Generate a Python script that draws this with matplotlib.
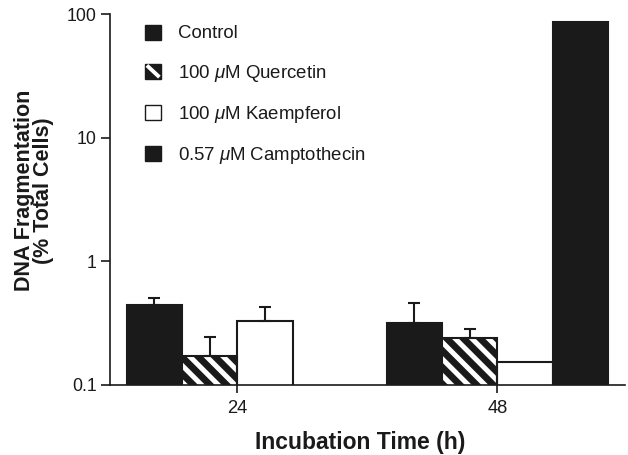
import numpy as np
import matplotlib
matplotlib.use("Agg")
import matplotlib.pyplot as plt
from matplotlib.patches import Patch, Rectangle
from matplotlib.lines import Line2D
from matplotlib.legend_handler import HandlerBase
from matplotlib.ticker import FixedLocator, NullLocator, FixedFormatter

plt.rcParams['font.family'] = ['Liberation Sans', 'DejaVu Sans']
plt.rcParams['hatch.linewidth'] = 3.6
plt.rcParams['mathtext.fontset'] = 'custom'
plt.rcParams['mathtext.it'] = 'Liberation Sans:italic'
plt.rcParams['mathtext.rm'] = 'Liberation Sans'

# Data
times = ["24", "48"]
series = ["Control", r"100 $\mu$M Quercetin", r"100 $\mu$M Kaempferol", r"0.57 $\mu$M Camptothecin"]
control = [0.445, 0.318]
quercetin = [0.172, 0.240]
kaempferol = [0.330, 0.153]
camptothecin = [np.nan, 86.0]
control_err = [0.06, 0.14]
quercetin_err = [0.073, 0.044]
kaempferol_err = [0.098, np.nan]
camptothecin_err = [np.nan, np.nan]

INK = '#1a1a1a'


class StripedSquare(HandlerBase):
    """Legend key: dark square crossed by one white diagonal stripe."""

    def create_artists(self, legend, orig_handle, xdescent, ydescent, width, height, fontsize, trans):
        x0, y0 = -xdescent, -ydescent
        rect = Rectangle((x0, y0), width, height, facecolor=INK, edgecolor=INK, lw=1, transform=trans)
        stripe = Line2D([x0 + 0.12 * width, x0 + 0.9 * width], [y0 + 0.88 * height, y0 + 0.1 * height],
                        color='white', lw=2.8, solid_capstyle='butt', transform=trans)
        return [rect, stripe]


fig = plt.figure(figsize=(6.28, 4.55), dpi=100)
ax = fig.add_axes([0.175, 0.154, 0.82, 0.815])
ax.set_yscale('log')
ax.set_ylim(0.1, 100)
ax.set_xlim(-0.49, 1.49)

x = np.arange(len(times))
w = 0.213
offsets = np.array([-1.5, -0.5, 0.5, 1.5]) * w
values = [control, quercetin, kaempferol, camptothecin]
errors = [control_err, quercetin_err, kaempferol_err, camptothecin_err]
styles = [
    dict(facecolor=INK, edgecolor=INK),
    dict(facecolor=INK, edgecolor='white', hatch='\\\\'),
    dict(facecolor='white', edgecolor=INK),
    dict(facecolor=INK, edgecolor=INK),
]

for vals, errs, off, st in zip(values, errors, offsets, styles):
    vals = np.array(vals, dtype=float)
    hatched = 'hatch' in st
    ax.bar(x + off, vals, w, linewidth=0 if hatched else 1.5, zorder=2, **st)
    if hatched:
        ax.bar(x + off, vals, w, facecolor='none', edgecolor=INK, linewidth=1.5, zorder=3)
    errs = np.array(errs, dtype=float)
    ok = ~np.isnan(errs) & ~np.isnan(vals)
    ax.errorbar(x[ok] + off, vals[ok], yerr=[np.zeros(ok.sum()), errs[ok]],
                fmt='none', ecolor=INK, elinewidth=1.5, capsize=4, capthick=1.5, zorder=4)

for s in ['top', 'right']:
    ax.spines[s].set_visible(False)
for s in ['left', 'bottom']:
    ax.spines[s].set_linewidth(1.2)
    ax.spines[s].set_color(INK)

ax.yaxis.set_major_locator(FixedLocator([0.1, 1, 10, 100]))
ax.yaxis.set_major_formatter(FixedFormatter(["0.1", "1", "10", "100"]))
ax.yaxis.set_minor_locator(NullLocator())
ax.set_xticks(x)
ax.set_xticklabels(times)
ax.tick_params(axis='y', length=6.5, width=1.2, pad=3, labelsize=12.8, colors=INK)
ax.tick_params(axis='x', length=6, width=1.2, pad=5, labelsize=13.2, colors=INK)

ax.set_xlabel("Incubation Time (h)", fontsize=16.5, fontweight='bold', color=INK)
ax.xaxis.set_label_coords(0.486, -0.125)
ax.set_ylabel("DNA Fragmentation\n(% Total Cells)", fontsize=15.5, fontweight='bold',
              linespacing=0.92, color=INK)
ax.yaxis.set_label_coords(-0.108, 0.525)

handles = [Patch(**styles[0]), Patch(facecolor=INK), Patch(**styles[2]), Patch(**styles[3])]
leg = ax.legend(handles, series, loc='upper left', bbox_to_anchor=(0.032, 1.022), frameon=False,
                fontsize=13.4, handlelength=0.86, handleheight=0.86, handletextpad=0.91,
                labelspacing=1.08, borderaxespad=0.6,
                handler_map={handles[1]: StripedSquare()})
for t in leg.get_texts():
    t.set_color(INK)

fig.savefig("out.png", dpi=100)
